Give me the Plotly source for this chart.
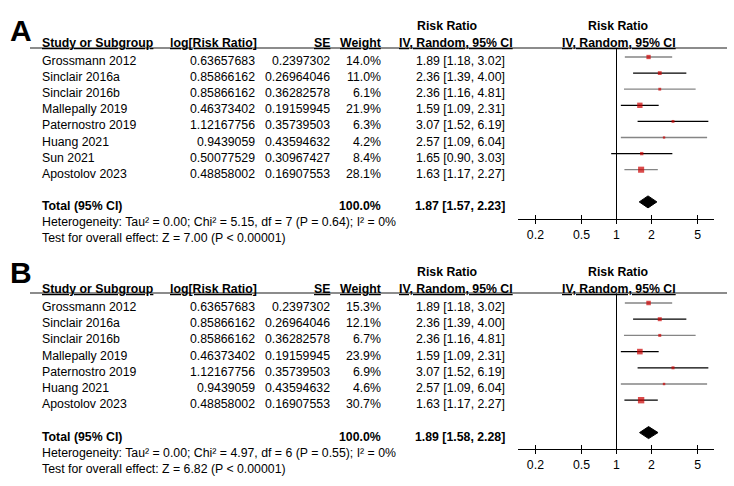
import math
import plotly.graph_objects as go

# ---------------- data ----------------
STUDIES_A = ["Grossmann 2012", "Sinclair 2016a", "Sinclair 2016b", "Mallepally 2019",
             "Paternostro 2019", "Huang 2021", "Sun 2021", "Apostolov 2023"]
LOGRR_A = ["0.63657683", "0.85866162", "0.85866162", "0.46373402",
           "1.12167756", "0.9439059", "0.50077529", "0.48858002"]
SE_A = ["0.2397302", "0.26964046", "0.36282578", "0.19159945",
        "0.35739503", "0.43594632", "0.30967427", "0.16907553"]
WEIGHT_A = [14.0, 11.0, 6.1, 21.9, 6.3, 4.2, 8.4, 28.1]
RR_A = [1.89, 2.36, 2.36, 1.59, 3.07, 2.57, 1.65, 1.63]
LO_A = [1.18, 1.39, 1.16, 1.09, 1.52, 1.09, 0.90, 1.17]
HI_A = [3.02, 4.00, 4.81, 2.31, 6.19, 6.04, 3.03, 2.27]
TOTAL_A = [1.87, 1.57, 2.23]
HET_A = "Heterogeneity: Tau² = 0.00; Chi² = 5.15, df = 7 (P = 0.64); I² = 0%"
TEST_A = "Test for overall effect: Z = 7.00 (P < 0.00001)"

STUDIES_B = ["Grossmann 2012", "Sinclair 2016a", "Sinclair 2016b", "Mallepally 2019",
             "Paternostro 2019", "Huang 2021", "Apostolov 2023"]
LOGRR_B = ["0.63657683", "0.85866162", "0.85866162", "0.46373402",
           "1.12167756", "0.9439059", "0.48858002"]
SE_B = ["0.2397302", "0.26964046", "0.36282578", "0.19159945",
        "0.35739503", "0.43594632", "0.16907553"]
WEIGHT_B = [15.3, 12.1, 6.7, 23.9, 6.9, 4.6, 30.7]
RR_B = [1.89, 2.36, 2.36, 1.59, 3.07, 2.57, 1.63]
LO_B = [1.18, 1.39, 1.16, 1.09, 1.52, 1.09, 1.17]
HI_B = [3.02, 4.00, 4.81, 2.31, 6.19, 6.04, 2.27]
TOTAL_B = [1.89, 1.58, 2.28]
HET_B = "Heterogeneity: Tau² = 0.00; Chi² = 4.97, df = 6 (P = 0.55); I² = 0%"
TEST_B = "Test for overall effect: Z = 6.82 (P < 0.00001)"

TICK_VALUES = [0.2, 0.5, 1, 2, 5]
TICK_LABELS = ["0.2", "0.5", "1", "2", "5"]

# styles (kept apart from data)
CI_COLORS_A = ["#858585", "#000000", "#858585", "#000000", "#000000", "#858585", "#000000", "#858585"]
CI_COLORS_B = ["#858585", "#000000", "#858585", "#000000", "#000000", "#858585", "#000000"]

W, H = 734, 486
FONT = "Liberation Sans, Arial, sans-serif"
FS = 12.3
RED = "#cc0000"


def px(x):
    return x / W


def py(y):
    return 1 - y / H


panels = [
    dict(letter="A", studies=STUDIES_A, logrr=LOGRR_A, se=SE_A, weight=WEIGHT_A, rr=RR_A,
         lo=LO_A, hi=HI_A, total=TOTAL_A, het=HET_A, test=TEST_A, cicol=CI_COLORS_A,
         base=57.0, step=16.1, top=0, bottom=243, axis_px=219, hline_px=48,
         h1=26, h2=43, letter_px=30, xa="x", ya="y"),
    dict(letter="B", studies=STUDIES_B, logrr=LOGRR_B, se=SE_B, weight=WEIGHT_B, rr=RR_B,
         lo=LO_B, hi=HI_B, total=TOTAL_B, het=HET_B, test=TEST_B, cicol=CI_COLORS_B,
         base=303.0, step=16.2, top=243, bottom=486, axis_px=449, hline_px=293,
         h1=272, h2=289, letter_px=272, xa="x2", ya="y2"),
]

# forest x axis geometry (pixels)
X_LEFT, X_RIGHT, X_ONE, PX_PER_DEC = 518, 714, 616.5, 116.0
x_range = [(X_LEFT - X_ONE) / PX_PER_DEC, (X_RIGHT - X_ONE) / PX_PER_DEC]

fig = go.Figure()
annotations = []
shapes = []
layout_axes = {}

COL_STUDY = 40
COL_LOGRR = 257
COL_SE = 332
COL_WEIGHT = 383
COL_CI = 507

for k, p in enumerate(panels):
    n = len(p["studies"])
    rows = list(range(n))
    total_row = n + 1
    het_row = n + 2
    test_row = n + 3
    xa, ya = p["xa"], p["ya"]
    axsuf = "" if k == 0 else str(k + 1)

    def rowval(pix, p=p):
        return (pix - p["base"]) / p["step"]

    # axes
    layout_axes["xaxis" + axsuf] = dict(
        type="log", range=x_range, domain=[px(X_LEFT), px(X_RIGHT)],
        anchor="free", position=py(p["axis_px"]),
        showline=True, linecolor="black", linewidth=1,
        ticks="outside", ticklen=4, tickwidth=1, tickcolor="black",
        tickvals=TICK_VALUES, ticktext=TICK_LABELS,
        tickfont=dict(family=FONT, size=FS, color="black"),
        showgrid=False, zeroline=False, fixedrange=True,
    )
    layout_axes["yaxis" + axsuf] = dict(
        range=[rowval(p["bottom"]), rowval(p["top"])],
        domain=[py(p["bottom"]), py(p["top"])],
        anchor="free", position=0, visible=False, showgrid=False, zeroline=False,
        fixedrange=True,
    )
    # inner half of the tick marks (overlay axis)
    ov = "xaxis" + str(k + 3)
    layout_axes[ov] = dict(
        type="log", range=x_range, domain=[px(X_LEFT), px(X_RIGHT)],
        anchor="free", position=py(p["axis_px"]), overlaying=xa,
        showline=False, ticks="inside", ticklen=4, tickwidth=1, tickcolor="black",
        tickvals=TICK_VALUES, showticklabels=False, showgrid=False, zeroline=False,
    )
    fig.add_trace(go.Scatter(x=[1], y=[None], xaxis="x" + str(k + 3), yaxis=ya,
                             mode="markers", showlegend=False, hoverinfo="skip"))

    # reference line at RR = 1
    shapes.append(dict(type="line", xref=xa, yref=ya, x0=1, x1=1,
                       y0=rowval(p["hline_px"]), y1=rowval(p["axis_px"]),
                       line=dict(color="black", width=1)))
    # header rule
    shapes.append(dict(type="line", xref="paper", yref="paper",
                       x0=px(30), x1=px(727), y0=py(p["hline_px"]), y1=py(p["hline_px"]),
                       line=dict(color="#666666", width=1.5)))

    # CI lines
    for i in rows:
        fig.add_trace(go.Scatter(x=[p["lo"][i], p["hi"][i]], y=[i, i], xaxis=xa, yaxis=ya,
                                 mode="lines", line=dict(color=p["cicol"][i], width=1.3),
                                 showlegend=False, hoverinfo="skip"))
    # weight squares
    fig.add_trace(go.Scatter(x=p["rr"], y=rows, xaxis=xa, yaxis=ya, mode="markers",
                             marker=dict(symbol="square", color=RED,
                                         size=[1.15 * math.sqrt(w) for w in p["weight"]],
                                         line=dict(width=0)),
                             showlegend=False, hoverinfo="skip"))
    # diamond
    t_rr, t_lo, t_hi = p["total"]
    half = 6.0 / p["step"]
    fig.add_trace(go.Scatter(x=[t_lo, t_rr, t_hi, t_rr, t_lo],
                             y=[total_row, total_row - half, total_row, total_row + half, total_row],
                             xaxis=xa, yaxis=ya, mode="lines", fill="toself",
                             fillcolor="black", line=dict(color="black", width=1),
                             showlegend=False, hoverinfo="skip"))

    # ---- text ----
    def txt(x, y, s, anchor, bold=False, size=FS, yref=ya, yshift=-4, p=p):
        annotations.append(dict(
            x=px(x), y=y, xref="paper", yref=yref, text=("<b>%s</b>" % s) if bold else s,
            showarrow=False, xanchor=anchor, yanchor="middle", yshift=yshift,
            font=dict(family=FONT, size=size, color="black")))

    # panel letter
    annotations.append(dict(x=px(8), y=py(p["letter_px"]), xref="paper", yref="paper",
                            text="<b>%s</b>" % p["letter"], showarrow=False,
                            xanchor="left", yanchor="middle",
                            font=dict(family=FONT, size=30, color="black")))
    # headers
    hy1, hy2 = py(p["h1"]), py(p["h2"])
    txt(COL_STUDY, hy2, "<u>Study or Subgroup</u>", "left", True, yref="paper", yshift=0)
    txt(259, hy2, "<u>log[Risk Ratio]</u>", "right", True, yref="paper", yshift=0)
    txt(COL_SE, hy2, "<u>SE</u>", "right", True, yref="paper", yshift=0)
    txt(COL_WEIGHT, hy2, "<u>Weight</u>", "right", True, yref="paper", yshift=0)
    txt(447, hy1, "Risk Ratio", "center", True, yref="paper", yshift=0)
    txt(456, hy2, "<u>IV, Random, 95% CI</u>", "center", True, yref="paper", yshift=0)
    txt(618, hy1, "Risk Ratio", "center", True, yref="paper", yshift=0)
    txt(619, hy2, "<u>IV, Random, 95% CI</u>", "center", True, yref="paper", yshift=0)

    for i in rows:
        txt(COL_STUDY, i, p["studies"][i], "left")
        txt(COL_LOGRR, i, p["logrr"][i], "right")
        txt(COL_SE, i, p["se"][i], "right")
        txt(COL_WEIGHT, i, "%.1f%%" % p["weight"][i], "right")
        txt(COL_CI, i, "%.2f [%.2f, %.2f]" % (p["rr"][i], p["lo"][i], p["hi"][i]), "right")

    txt(COL_STUDY, total_row, "Total (95% CI)", "left", True)
    txt(COL_WEIGHT, total_row, "100.0%", "right", True)
    txt(COL_CI, total_row, "%.2f [%.2f, %.2f]" % (t_rr, t_lo, t_hi), "right", True)
    txt(COL_STUDY, het_row, p["het"], "left")
    txt(COL_STUDY, test_row, p["test"], "left")

fig.update_layout(
    width=W, height=H, margin=dict(l=0, r=0, t=0, b=0),
    paper_bgcolor="white", plot_bgcolor="rgba(0,0,0,0)",
    showlegend=False, annotations=annotations, shapes=shapes,
    font=dict(family=FONT, size=FS, color="black"),
    **layout_axes,
)

fig.write_html("out.html", config={"displayModeBar": False})
